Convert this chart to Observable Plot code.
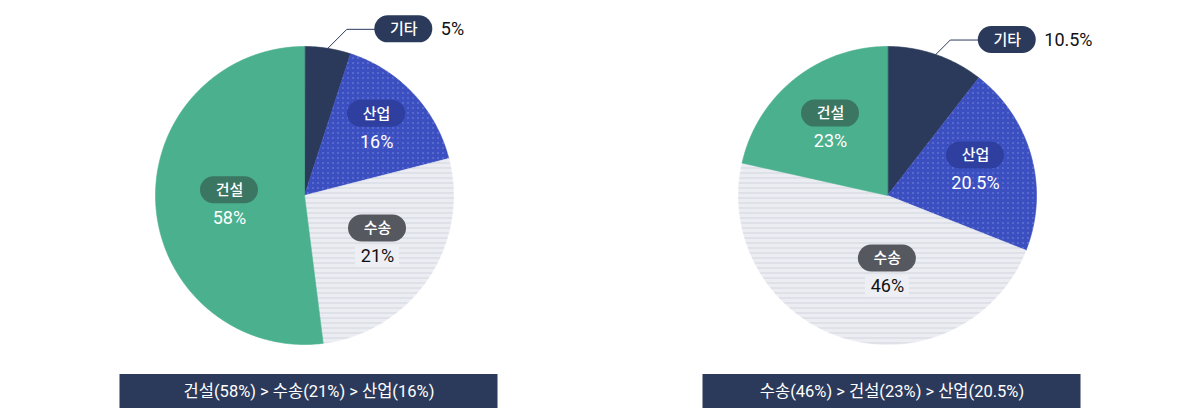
<!DOCTYPE html>
<html>
<head>
<meta charset="utf-8">
<script src="https://cdn.jsdelivr.net/npm/d3@7"></script>
<script src="https://cdn.jsdelivr.net/npm/@observablehq/plot@0.6"></script>
<style>
  html, body { margin: 0; padding: 0; background: #fff; overflow: hidden; }
  #chart svg { display: block; }
</style>
</head>
<body>
<div id="chart"></div>
<script>
// ---- data ----
const categories = ["기타", "산업", "수송", "건설"];
// printed percentages
const leftValues = [5, 16, 21, 58];
const rightValues = [10.5, 20.5, 46, 23];
// slice sizes as drawn in the picture (shares of the circle, %)
const leftDrawn = [5, 16, 27, 52];
const rightDrawn = [10.5, 20.5, 47.5, 21.5];

// ---- styles / layout ----
const FONT = "Roboto, 'Noto Sans CJK KR', sans-serif";
const KFONT = "'Noto Sans CJK KR', Roboto, sans-serif";
const NAVY = "#2b3a5b";
const sliceFill = { "기타": NAVY, "산업": "url(#dots)", "수송": "url(#stripes)", "건설": "#4ab08e" };
const pillFill = { "기타": NAVY, "산업": "#2f3f9f", "수송": "#55585f", "건설": "#3b7662" };
const pctFill = { "산업": "#ffffff", "수송": "#111111", "건설": "#ffffff" };
const R = 149;
const charts = [
  { cx: 304, cy: 195, drawn: leftDrawn, values: leftValues, leaderD: 19,
    adj: { "산업": [0.664, 0], "수송": [0.583, -1.4], "건설": [0.507, -3] } },
  { cx: 887, cy: 195, drawn: rightDrawn, values: rightValues, leaderD: 14.5,
    adj: { "산업": [0.616, -1.2], "수송": [0.517, -17], "건설": [0.595, -1.3] } }
];
const PILL_W = 58, PILL_H = 27;
const rad = (deg) => deg * Math.PI / 180;

const marks = [];
for (const ch of charts) {
  const total = d3.sum(ch.drawn);
  let acc = 0;
  const slices = categories.map((c, i) => {
    const a0 = acc / total * 360;
    acc += ch.drawn[i];
    const a1 = acc / total * 360;
    return { cat: c, value: ch.values[i], a0, a1, mid: (a0 + a1) / 2 };
  });
  const pt = (deg, r) => ({ x: ch.cx + r * Math.sin(rad(deg)), y: ch.cy - r * Math.cos(rad(deg)) });

  // slices
  for (const s of slices) {
    const n = Math.max(2, Math.ceil(s.a1 - s.a0) + 1);
    const poly = [{ x: ch.cx, y: ch.cy }];
    for (let k = 0; k < n; k++) poly.push(pt(s.a0 + (s.a1 - s.a0) * k / (n - 1), R));
    marks.push(Plot.line(poly, {
      x: "x", y: "y", curve: "linear-closed",
      fill: sliceFill[s.cat], stroke: sliceFill[s.cat], strokeWidth: 0.6
    }));
  }

  // inner labels
  const inner = slices.filter(s => s.cat !== "기타").map(s => {
    const [f, da] = ch.adj[s.cat];
    const p = pt(s.mid + da, R * f);
    return { ...s, x: p.x, y: p.y };
  });
  // light backing behind dark percent text on the striped slice
  marks.push(Plot.rect(inner.filter(d => d.cat === "수송"), {
    x1: d => d.x - 22, x2: d => d.x + 22, y1: d => d.y + 4, y2: d => d.y + 25, fill: "#eeeff4"
  }));
  marks.push(Plot.rect(inner, {
    x1: d => d.x - PILL_W / 2, x2: d => d.x + PILL_W / 2,
    y1: d => d.y - 14 - PILL_H / 2, y2: d => d.y - 14 + PILL_H / 2,
    rx: PILL_H / 2, fill: d => pillFill[d.cat]
  }));
  marks.push(Plot.text(inner, {
    x: "x", y: d => d.y - 14, text: "cat", fill: "#fff", fontSize: 15, fontFamily: KFONT, fontWeight: 500
  }));
  marks.push(Plot.text(inner, {
    x: "x", y: d => d.y + 14, text: d => `${d.value}%`, fill: d => pctFill[d.cat], fontSize: 18, fontFamily: FONT
  }));

  // outer label (기타) with leader line
  const other = slices.find(s => s.cat === "기타");
  const e = pt(other.mid, R);
  const bend = { x: e.x + ch.leaderD, y: e.y - ch.leaderD };
  const pillL = { x: bend.x + 28, y: bend.y };
  marks.push(Plot.line([e, bend, pillL], { x: "x", y: "y", stroke: NAVY, strokeWidth: 1 }));
  const ol = [{ cat: other.cat, value: other.value, x: pillL.x, y: pillL.y }];
  marks.push(Plot.rect(ol, {
    x1: d => d.x, x2: d => d.x + PILL_W, y1: d => d.y - PILL_H / 2, y2: d => d.y + PILL_H / 2,
    rx: PILL_H / 2, fill: pillFill["기타"]
  }));
  marks.push(Plot.text(ol, {
    x: d => d.x + PILL_W / 2, y: "y", text: "cat", fill: "#fff", fontSize: 15, fontFamily: KFONT, fontWeight: 500
  }));
  marks.push(Plot.text(ol, {
    x: d => d.x + PILL_W + 8, y: "y", text: d => `${d.value}%`, textAnchor: "start", fill: "#111", fontSize: 18, fontFamily: FONT
  }));

  // summary banner
  const ranked = categories.map((c, i) => ({ c, v: ch.values[i] }))
    .filter(d => d.c !== "기타").sort((a, b) => b.v - a.v);
  const summary = ranked.map(d => `${d.c}(${d.v}%)`).join(" > ");
  const ban = [{ x: ch.cx + 4.5, text: summary }];
  marks.push(Plot.rect(ban, { x1: d => d.x - 189, x2: d => d.x + 189, y1: 374, y2: 408, fill: NAVY }));
  marks.push(Plot.text(ban, { x: "x", y: 391, text: "text", fill: "#fff", fontSize: 16.5, fontFamily: FONT }));
}

const svg = Plot.plot({
  width: 1200, height: 408, margin: 0,
  x: { domain: [0, 1200], range: [0, 1200], axis: null },
  y: { domain: [0, 408], range: [0, 408], axis: null },
  style: { fontFamily: FONT, background: "#fff", overflow: "visible" },
  marks
});

const defs = document.createElementNS("http://www.w3.org/2000/svg", "defs");
defs.innerHTML = `
  <pattern id="dots" width="5" height="5" patternUnits="userSpaceOnUse">
    <rect width="5" height="5" fill="#3b4fc1"/>
    <rect x="2" y="2" width="1" height="1" fill="#aab6ec"/>
  </pattern>
  <pattern id="stripes" width="5" height="5" patternUnits="userSpaceOnUse">
    <rect width="5" height="5" fill="#ecedf3"/>
    <rect x="0" y="2" width="5" height="1" fill="#d2d4dd"/>
  </pattern>`;
svg.insertBefore(defs, svg.firstChild);
document.getElementById("chart").appendChild(svg);
</script>
</body>
</html>
